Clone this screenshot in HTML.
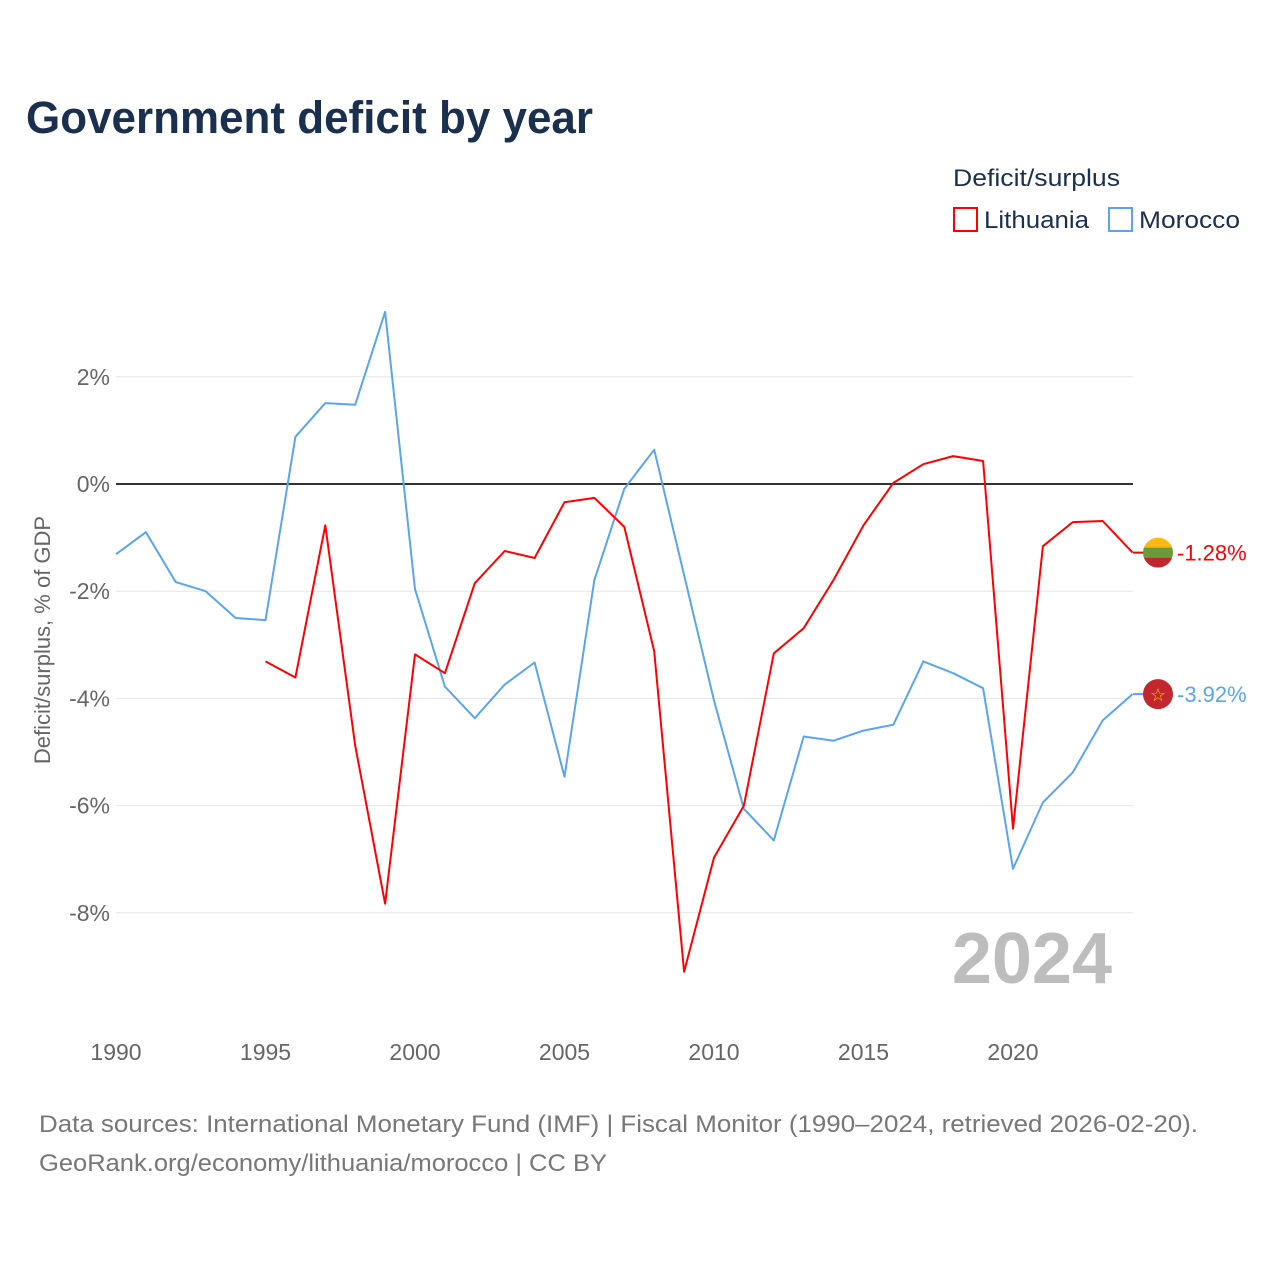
<!DOCTYPE html>
<html><head><meta charset="utf-8">
<style>
body{margin:0;background:#fff;font-family:"Liberation Sans",sans-serif;}
#wrap{position:relative;width:1280px;height:1280px;overflow:hidden;}
</style></head>
<body>
<div id="wrap">
<svg id="chart" width="1280" height="1280" xmlns="http://www.w3.org/2000/svg">
<text x="26" y="133" font-size="45" font-weight="bold" fill="#1b2f4e" textLength="567" lengthAdjust="spacingAndGlyphs">Government deficit by year</text>
<text x="953" y="186" font-size="24" fill="#1b2f4e" textLength="167" lengthAdjust="spacingAndGlyphs">Deficit/surplus</text>
<g>
<rect x="954" y="208" width="23" height="23" fill="none" stroke="#ff0000" stroke-width="2"/>
<text x="984" y="228" font-size="24" fill="#1b2f4e" textLength="105" lengthAdjust="spacingAndGlyphs">Lithuania</text></g>
<g>
<rect x="1109" y="208" width="23" height="23" fill="none" stroke="#5aa5ec" stroke-width="2"/>
<text x="1139" y="228" font-size="24" fill="#1b2f4e" textLength="101" lengthAdjust="spacingAndGlyphs">Morocco</text></g>
<g id="grid"></g>
<g id="axes"></g>
<g id="series"></g>
<text x="1112" y="983" text-anchor="end" font-size="72" font-weight="bold" fill="#bdbdbd">2024</text>
<text transform="translate(50,640) rotate(-90)" text-anchor="middle" font-size="22" fill="#666">Deficit/surplus, % of GDP</text>
<text x="39" y="1132" font-size="24" fill="#777" textLength="1159" lengthAdjust="spacingAndGlyphs">Data sources: International Monetary Fund (IMF) | Fiscal Monitor (1990–2024, retrieved 2026-02-20).</text>
<text x="39" y="1171" font-size="24" fill="#777" textLength="568" lengthAdjust="spacingAndGlyphs">GeoRank.org/economy/lithuania/morocco | CC BY</text>
</svg>
</div>
<script>
const years=[];for(let y=1990;y<=2024;y++)years.push(y);
const morocco=[-1.31,-0.90,-1.83,-2.0,-2.50,-2.54,0.88,1.51,1.48,3.21,-1.96,-3.78,-4.37,-3.74,-3.33,-5.46,-1.79,-0.09,0.64,-1.7,-4.04,-6.06,-6.65,-4.71,-4.79,-4.6,-4.49,-3.31,-3.53,-3.81,-7.18,-5.94,-5.38,-4.41,-3.92];
const lithuania=[null,null,null,null,null,-3.31,-3.61,-0.77,-4.88,-7.83,-3.18,-3.53,-1.85,-1.25,-1.38,-0.34,-0.26,-0.80,-3.12,-9.10,-6.97,-6.0,-3.16,-2.69,-1.79,-0.77,0.02,0.37,0.52,0.43,-6.43,-1.16,-0.71,-0.69,-1.28];
const yTicks=[2,0,-2,-4,-6,-8];
const xTicks=[1990,1995,2000,2005,2010,2015,2020];
const NS="http://www.w3.org/2000/svg";
const X=y=>116+(y-1990)*29.9;
const Y=v=>484-v*53.6;
function mk(tag,attrs,parent){const e=document.createElementNS(NS,tag);for(const k in attrs)e.setAttribute(k,attrs[k]);parent.appendChild(e);return e;}
const grid=document.getElementById('grid'),axes=document.getElementById('axes'),ser=document.getElementById('series');
yTicks.forEach(v=>{
 const l=mk('line',{x1:116,x2:1133,y1:Y(v),y2:Y(v),stroke:v===0?'#333':'#e6e6e6','stroke-width':v===0?2:1},grid);
 
 
 const t=mk('text',{x:110,y:Y(v)+8,'text-anchor':'end','font-size':23,fill:'#666'},axes);
 t.textContent=v+'%';
 
 
});
xTicks.forEach(v=>{
 const t=mk('text',{x:X(v),y:1060,'text-anchor':'middle','font-size':23,fill:'#666'},axes);
 t.textContent=v;
 
 
});
function line(data,color,name){
 let d='';data.forEach((v,i)=>{if(v===null)return;d+=(d?'L':'M')+X(years[i]).toFixed(1)+','+Y(v).toFixed(1);});
 const p=mk('path',{d:d,fill:'none',stroke:color,'stroke-width':2,'stroke-linejoin':'round'},ser);
 
 
}
line(morocco,'#5aa5ec','line-morocco');
line(lithuania,'#ff0000','line-lithuania');
function endLabel(v,color,name,flag){
 const y=Y(v);
 const g=mk('g',{},ser);
 
 
 mk('line',{x1:1133,x2:1145,y1:y,y2:y,stroke:color,'stroke-width':2},g);
 if(flag==='lt'){
  mk('clipPath',{id:'clt'},g);document.getElementById('clt').appendChild(document.createElementNS(NS,'circle'));
  const c=document.querySelector('#clt circle');c.setAttribute('cx',1158);c.setAttribute('cy',y);c.setAttribute('r',15);
  mk('rect',{x:1143,y:y-15,width:30,height:10,fill:'#fdb913','clip-path':'url(#clt)'},g);
  mk('rect',{x:1143,y:y-5,width:30,height:10,fill:'#6a9a3a','clip-path':'url(#clt)'},g);
  mk('rect',{x:1143,y:y+5,width:30,height:10,fill:'#c1272d','clip-path':'url(#clt)'},g);
 }else{
  mk('circle',{cx:1158,cy:y,r:15,fill:'#c1272d'},g);
  const s=mk('text',{x:1158,y:y+7,'text-anchor':'middle','font-size':18,fill:'#f5d000'},g);s.textContent='☆';
 }
 const t=mk('text',{x:1177,y:y+8,'font-size':22,fill:color},g);
 t.textContent=v.toFixed(2)+'%';
}
endLabel(lithuania[lithuania.length-1],'#ff0000','end-label-lithuania','lt');
endLabel(morocco[morocco.length-1],'#5aa5ec','end-label-morocco','ma');
</script>
</body></html>
